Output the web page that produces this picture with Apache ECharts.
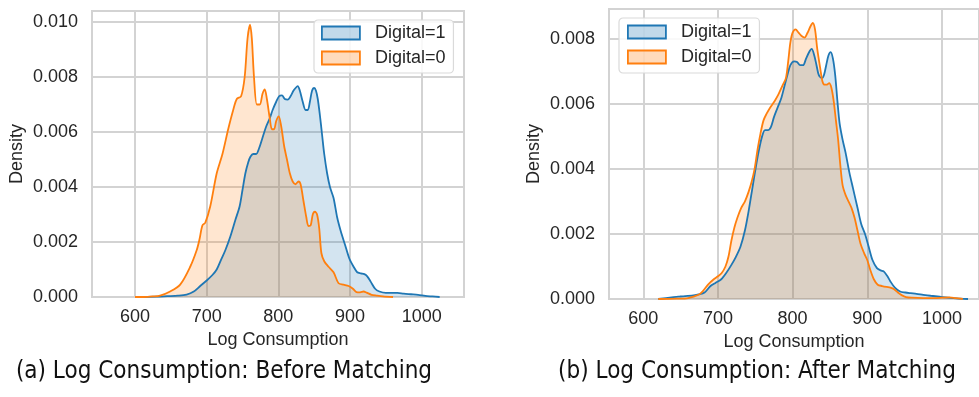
<!DOCTYPE html>
<html>
<head>
<meta charset="utf-8">
<script src="https://cdn.jsdelivr.net/npm/echarts@6/dist/echarts.min.js"></script>
<style>
html,body{margin:0;padding:0;background:#fff;}
#c{width:979px;height:397px;}
</style>
</head>
<body>
<div id="c"></div>
<script>
// ---------- data ----------
const xTicks = [600, 700, 800, 900, 1000];
const seriesNames = ['Digital=1', 'Digital=0'];
const captions = ['(a) Log Consumption: Before Matching', '(b) Log Consumption: After Matching'];

// (a) Before matching, Digital=1
const beforeD1X = [600,630,645,660,672,682,691,700,708,714,720,726,733,740,746,750,754,758,761,765,769,773,778,783,788,792,797,801,805,809,813,817,821,824,827,830,834,838,841,844,847,850,852.5,855,858,861,864,868,872,877,882,887,893,899,905,910,915,920,924,929,935,941,950,958,966,975,985,995,1005,1015,1025];
const beforeD1Y = [0,0.00001,0.00003,0.00005,0.00009,0.0002,0.0004,0.0006,0.0008,0.001,0.00135,0.0017,0.0022,0.0028,0.0033,0.0039,0.0045,0.0049,0.0051,0.0052,0.0052,0.0054,0.0058,0.0062,0.0065,0.0068,0.0071,0.0073,0.00733,0.0072,0.00718,0.0073,0.0075,0.0076,0.00767,0.0075,0.0071,0.0068,0.0068,0.0071,0.0075,0.0076,0.0075,0.0072,0.0066,0.0059,0.0052,0.0045,0.004,0.0036,0.0029,0.0024,0.0019,0.0014,0.0011,0.0009,0.00086,0.00083,0.00075,0.00055,0.0003,0.0002,0.00015,0.00015,0.00015,0.00012,0.0001,0.00008,0.00004,0.00002,0];
// (a) Before matching, Digital=0
const beforeD0X = [600,612,625,635,649,663,677,686,690,694,698,705,714,722,730,737,742,748,753,757,760.5,763,766,770,774,778,781,784,788,791,794,797,800.5,804,808,812,816,820,824,828,831,835,839,842,845,848,851,854,857,860,864,870,877,884,891,898,904,909,914,919,923,930,937,946,960];
const beforeD0Y = [0,0,0.00002,0.00005,0.0002,0.00045,0.0011,0.0017,0.0021,0.0026,0.0027,0.0033,0.0045,0.0052,0.0061,0.0068,0.0072,0.0073,0.008,0.0094,0.0099,0.0094,0.008,0.007,0.007,0.0074,0.00755,0.0072,0.0065,0.0061,0.0061,0.0064,0.00657,0.0062,0.0055,0.005,0.0045,0.0042,0.0041,0.0042,0.0041,0.0035,0.0029,0.00258,0.0026,0.003,0.0031,0.003,0.0025,0.0016,0.0013,0.0011,0.0009,0.0005,0.00045,0.0004,0.0003,0.00018,0.00017,0.0002,0.00016,0.00008,0.00005,0.00002,0];

// (b) After matching, Digital=1
const afterD1X = [620,638,647,656,665,674,682,690,697,704,711,718,724,730,736,741,746,751,755,759,763,767,771,775,780,785,789,793,797,802,806,810,814,818,822,825.5,829,832,835,839,842,845,848,851,854,857,860,863,867,871,876,881,887,892,897,902,907,913,918,922,927,931,937,944,951,958,966,975,985,997,1008,1015,1025,1035];
const afterD1Y = [0,0.00005,0.00007,0.00009,0.0001,0.00014,0.0002,0.0004,0.0005,0.0006,0.0008,0.00105,0.0013,0.0016,0.0021,0.0027,0.0034,0.0041,0.0046,0.005,0.0052,0.0052,0.0053,0.0056,0.0059,0.0062,0.00655,0.0069,0.0072,0.00732,0.0073,0.0072,0.0072,0.0074,0.0076,0.0077,0.0075,0.0072,0.0069,0.0068,0.0069,0.0072,0.0075,0.0076,0.0074,0.0069,0.0061,0.0054,0.0049,0.0045,0.0039,0.0034,0.0028,0.0023,0.002,0.0016,0.0012,0.00095,0.00088,0.00085,0.0007,0.00054,0.00035,0.00023,0.0002,0.00018,0.00016,0.00013,0.0001,0.00007,0.00004,0.00003,0.00001,0];
// (b) After matching, Digital=0
const afterD0X = [620,645,660,674,680,687,694,700,705,710,714,718,722,726,731,736,741,745,749,753,757,761,765,770,776,781,787,791,794,797,800,804,808,812,816,820,824,827,830,833,837,840,843,846,849,852,855,858,861,864,867,871,875,879,883,887,891,896,900,904,909,914,920,926,931,936,941,946,952,960,975,990,1000,1010,1018,1028];
const afterD0Y = [0,0.00001,0.00003,0.00013,0.00025,0.00045,0.0006,0.0007,0.0008,0.001,0.0013,0.0018,0.0022,0.0025,0.0028,0.003,0.0033,0.0036,0.004,0.0046,0.0051,0.0055,0.0057,0.0059,0.0061,0.0063,0.0066,0.0068,0.0073,0.0079,0.0082,0.0083,0.0082,0.0081,0.00805,0.0082,0.0084,0.0085,0.0083,0.0077,0.0071,0.0067,0.0066,0.0066,0.00665,0.0065,0.0061,0.0055,0.0049,0.0041,0.0035,0.0032,0.003,0.0028,0.0025,0.0021,0.0017,0.0014,0.0012,0.0009,0.0006,0.00044,0.0004,0.00037,0.00035,0.0003,0.0002,0.00012,0.00006,0.00004,0.00003,0.00003,0.00004,0.00005,0.00003,0];

// ---------- chart ----------
const BLUE = '#1f77b4', ORANGE = '#ff7f0e';
const BLUE_FILL = 'rgba(31,119,180,0.28)', ORANGE_FILL = 'rgba(255,127,14,0.28)';
const GRID_C = '#d3d3d3', TXT = '#262626';
const FONT = "'Liberation Sans', Arial, sans-serif";
const CAP_FONT = "24px 'DejaVu Sans Condensed', 'Liberation Sans Narrow', 'Liberation Sans', sans-serif";

function zip(xs, ys) { return xs.map((x, i) => [x, ys[i]]); }

const chart = echarts.init(document.getElementById('c'), null, {renderer: 'canvas'});

function xAxisCfg(gi, min, max) {
  return {
    gridIndex: gi, type: 'value', min: min, max: max,
    name: 'Log Consumption', nameLocation: 'middle', nameGap: 34,
    nameTextStyle: {color: TXT, fontSize: 18, fontFamily: FONT},
    axisLine: {show: false}, axisTick: {show: false, customValues: xTicks},
    axisLabel: {customValues: xTicks, color: TXT, fontSize: 18, fontFamily: FONT, margin: 11,
      formatter: v => String(v)},
    splitLine: {show: true, lineStyle: {color: GRID_C, width: 2}}
  };
}
function yAxisCfg(gi, max) {
  return {
    gridIndex: gi, type: 'value', min: 0, max: max, interval: 0.002,
    name: 'Density', nameLocation: 'middle', nameGap: 66,
    nameTextStyle: {color: TXT, fontSize: 18, fontFamily: FONT},
    axisLine: {show: false}, axisTick: {show: false},
    axisLabel: {color: TXT, fontSize: 18, fontFamily: FONT, margin: 14, showMaxLabel: false,
      formatter: v => v.toFixed(3)},
    splitLine: {show: true, showMaxLine: false, lineStyle: {color: GRID_C, width: 2}}
  };
}
function ser(name, gi, xs, ys, color, fill) {
  return {
    name: name, type: 'line', xAxisIndex: gi, yAxisIndex: gi,
    data: zip(xs, ys), smooth: 0.3, symbol: 'none', showSymbol: false,
    lineStyle: {color: color, width: 1.8}, itemStyle: {color: color},
    areaStyle: {color: fill, origin: 'start'}, z: 2, silent: true
  };
}
function legendCfg(left, top, padding) {
  return {
    left: left, top: top, orient: 'vertical', padding: padding,
    itemWidth: 38, itemHeight: 13, itemGap: 5,
    backgroundColor: 'rgba(255,255,255,0.85)', borderColor: '#dadada', borderWidth: 1.2, borderRadius: 4,
    textStyle: {color: TXT, fontSize: 18, fontFamily: FONT, lineHeight: 20, padding: [0, 0, 0, 10]},
    selectedMode: false,
    data: [
      {name: seriesNames[0], icon: 'rect', itemStyle: {color: BLUE_FILL, borderColor: BLUE, borderWidth: 1.8}},
      {name: seriesNames[1], icon: 'rect', itemStyle: {color: ORANGE_FILL, borderColor: ORANGE, borderWidth: 1.8}}
    ]
  };
}

const option = {
  animation: false,
  backgroundColor: '#ffffff',
  grid: [
    {left: 92, top: 11, width: 372, height: 286, show: true, borderColor: GRID_C, borderWidth: 2, containLabel: false},
    {left: 609, top: 9, width: 373, height: 290, show: true, borderColor: GRID_C, borderWidth: 2, containLabel: false}
  ],
  xAxis: [xAxisCfg(0, 540, 1059), xAxisCfg(1, 554, 1049.7)],
  yAxis: [yAxisCfg(0, 0.0104), yAxisCfg(1, 0.00893)],
  legend: [
    legendCfg(314, 20, [3, 8, 5, 7]),
    legendCfg(619, 18, [4, 8, 6, 8])
  ],
  series: [
    ser(seriesNames[0], 0, beforeD1X, beforeD1Y, BLUE, BLUE_FILL),
    ser(seriesNames[1], 0, beforeD0X, beforeD0Y, ORANGE, ORANGE_FILL),
    ser(seriesNames[0], 1, afterD1X, afterD1Y, BLUE, BLUE_FILL),
    ser(seriesNames[1], 1, afterD0X, afterD0Y, ORANGE, ORANGE_FILL)
  ],
  graphic: [
    {type: 'text', x: 224, y: 372, silent: true,
      style: {text: captions[0], fill: '#111', font: CAP_FONT, textAlign: 'center', textVerticalAlign: 'middle'}},
    {type: 'text', x: 757, y: 372, silent: true,
      style: {text: captions[1], fill: '#111', font: CAP_FONT, textAlign: 'center', textVerticalAlign: 'middle'}}
  ]
};
chart.setOption(option);
</script>
</body>
</html>
